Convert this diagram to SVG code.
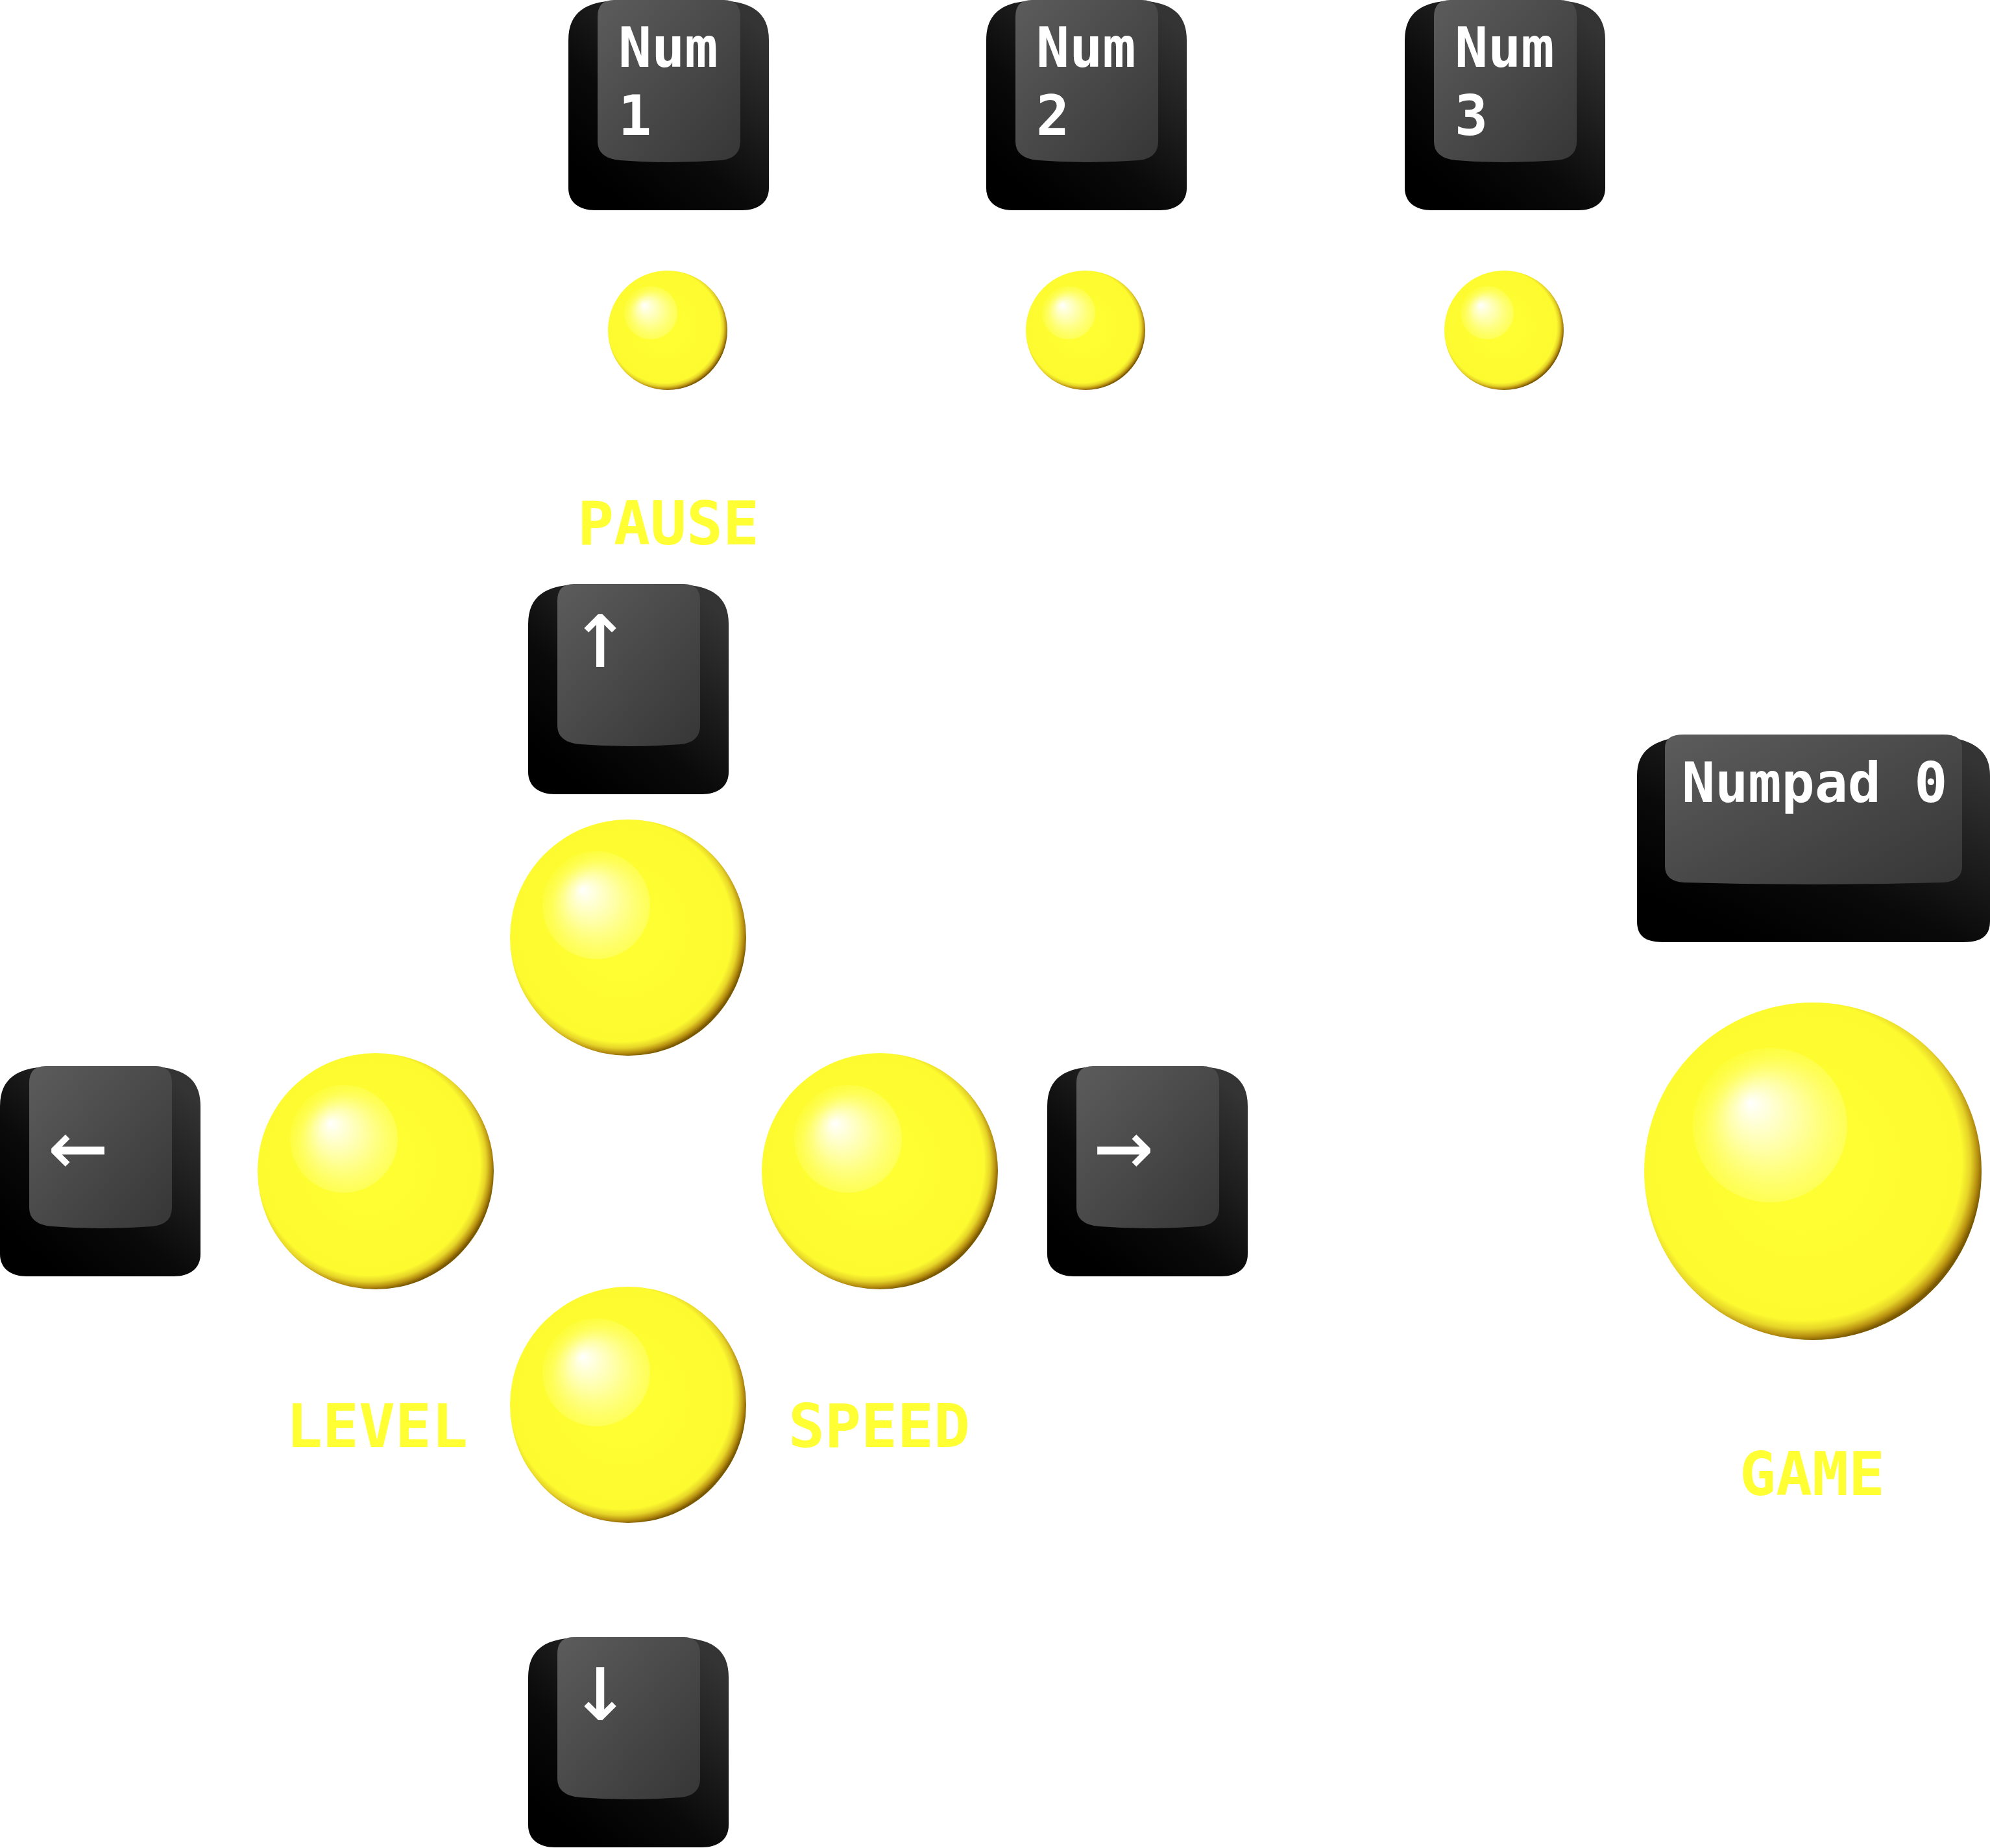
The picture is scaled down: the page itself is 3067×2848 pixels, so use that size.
<svg xmlns="http://www.w3.org/2000/svg" xmlns:xlink="http://www.w3.org/1999/xlink" width="3067" height="2848" viewBox="0 0 3067 2848">
<defs>
<style>
.lbl{font-family:"DejaVu Sans Mono","Liberation Mono",monospace;font-weight:bold;font-size:93px;fill:#ffff33;text-anchor:middle}
.key{font-family:"DejaVu Sans Mono","Liberation Mono",monospace;font-weight:bold;font-size:85px;fill:#ffffff}
.arr{font-family:"DejaVu Sans Mono","DejaVu Sans",monospace;font-size:152px;fill:#ffffff;text-anchor:middle}
.body{fill:url(#gBody)}
.face{fill:url(#gFace)}
.ballbase{fill:url(#gBall)}
.hl{fill:url(#gHl)}
</style>
<linearGradient id="gBody" x1="0.2" y1="0.9" x2="0.85" y2="0.05">
<stop offset="0" stop-color="#000000"/>
<stop offset="0.35" stop-color="#0a0a0a"/>
<stop offset="1" stop-color="#343434"/>
</linearGradient>
<linearGradient id="gFace" x1="0" y1="0" x2="1" y2="1">
<stop offset="0" stop-color="#5c5c5c"/>
<stop offset="1" stop-color="#363636"/>
</linearGradient>
<radialGradient id="gBall" cx="0.47" cy="0.47" r="0.535">
<stop offset="0" stop-color="#ffff33"/>
<stop offset="0.88" stop-color="#fdfb30"/>
<stop offset="0.93" stop-color="#e6d428"/>
<stop offset="0.97" stop-color="#b89010"/>
<stop offset="1" stop-color="#7a5800"/>
</radialGradient>
<radialGradient id="gHl" cx="0.66" cy="0.66" r="0.78" fx="0.37" fy="0.35">
<stop offset="0" stop-color="#ffffff" stop-opacity="1"/>
<stop offset="0.3" stop-color="#ffffb0" stop-opacity="0.9"/>
<stop offset="0.6" stop-color="#ffff70" stop-opacity="0.55"/>
<stop offset="1" stop-color="#ffff40" stop-opacity="0.05"/>
</radialGradient>
<path id="kb" d="M0,62 C0,18 28,2 75,1 L234,1 C281,2 309,18 309,62 L309,290 C309,312 292,324 268,324 L41,324 C17,324 0,312 0,290 Z"/>
<path id="kf" d="M45,26 Q45,0 70,0 L240,0 Q265,0 265,26 L265,218 Q265,244 235,247 Q155,253 80,247 Q45,244 45,218 Z"/>
</defs>
<rect width="3067" height="2848" fill="#ffffff"/>

<g id="connectors"></g>

<g id="key-num1">
<use xlink:href="#kb" x="876" y="0" class="body"/>
<use xlink:href="#kf" x="876" y="0" class="face"/>
<text class="key" x="953" y="103">Num</text>
<text class="key" x="953" y="208">1</text>
</g>
<g id="key-num2">
<use xlink:href="#kb" x="1520" y="0" class="body"/>
<use xlink:href="#kf" x="1520" y="0" class="face"/>
<text class="key" x="1597" y="103">Num</text>
<text class="key" x="1597" y="208">2</text>
</g>
<g id="key-num3">
<use xlink:href="#kb" x="2165" y="0" class="body"/>
<use xlink:href="#kf" x="2165" y="0" class="face"/>
<text class="key" x="2242" y="103">Num</text>
<text class="key" x="2242" y="208">3</text>
</g>

<g id="ball-num1">
<circle cx="1029" cy="509" r="92" class="ballbase"/>
<circle cx="1003" cy="482" r="41" class="hl"/>
</g>
<g id="ball-num2">
<circle cx="1673" cy="509" r="92" class="ballbase"/>
<circle cx="1647" cy="482" r="41" class="hl"/>
</g>
<g id="ball-num3">
<circle cx="2318" cy="509" r="92" class="ballbase"/>
<circle cx="2292" cy="482" r="41" class="hl"/>
</g>

<g id="label-pause"><text class="lbl" x="1030" y="839">PAUSE</text></g>

<g id="key-up">
<use xlink:href="#kb" x="814" y="900" class="body"/>
<use xlink:href="#kf" x="814" y="900" class="face"/>
<text class="arr" x="925" y="1028">↑</text>
</g>

<g id="ball-up">
<circle cx="968" cy="1445" r="182" class="ballbase"/>
<circle cx="919" cy="1395" r="83" class="hl"/>
</g>

<g id="key-left">
<use xlink:href="#kb" x="0" y="1643" class="body"/>
<use xlink:href="#kf" x="0" y="1643" class="face"/>
<text class="arr" x="120" y="1815">←</text>
</g>
<g id="ball-left">
<circle cx="579" cy="1805" r="182" class="ballbase"/>
<circle cx="530" cy="1755" r="83" class="hl"/>
</g>
<g id="ball-right">
<circle cx="1356" cy="1805" r="182" class="ballbase"/>
<circle cx="1307" cy="1755" r="83" class="hl"/>
</g>
<g id="key-right">
<use xlink:href="#kb" x="1614" y="1643" class="body"/>
<use xlink:href="#kf" x="1614" y="1643" class="face"/>
<text class="arr" x="1732" y="1815">→</text>
</g>

<g id="ball-down">
<circle cx="968" cy="2165" r="182" class="ballbase"/>
<circle cx="919" cy="2115" r="83" class="hl"/>
</g>
<g id="label-level"><text class="lbl" x="581" y="2230">LEVEL</text></g>
<g id="label-speed"><text class="lbl" x="1355" y="2230">SPEED</text></g>

<g id="key-down">
<use xlink:href="#kb" x="814" y="2523" class="body"/>
<use xlink:href="#kf" x="814" y="2523" class="face"/>
<text class="arr" x="925" y="2651">↓</text>
</g>

<g id="key-numpad0">
<path class="body" d="M2523,1195 C2523,1148 2560,1133 2640,1132 L2950,1132 C3030,1133 3067,1148 3067,1195 L3067,1420 C3067,1445 3050,1452 3025,1452 L2565,1452 C2538,1452 2523,1445 2523,1420 Z"/>
<path class="face" d="M2566,1152 Q2566,1132 2595,1132 L2995,1132 Q3024,1132 3024,1152 L3024,1335 Q3024,1358 2995,1360 Q2795,1366 2595,1360 Q2566,1358 2566,1335 Z"/>
<text class="key" x="2592" y="1236">Numpad 0</text>
</g>

<g id="ball-game">
<circle cx="2794" cy="1805" r="260" class="ballbase"/>
<circle cx="2728" cy="1734" r="119" class="hl"/>
</g>
<g id="label-game"><text class="lbl" x="2793" y="2304">GAME</text></g>
</svg>
